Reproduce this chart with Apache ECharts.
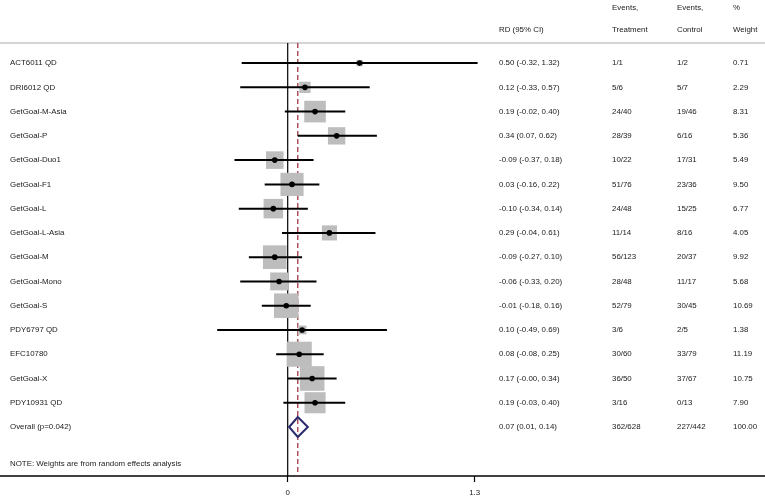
<!DOCTYPE html>
<html>
<head>
<meta charset="utf-8">
<script src="https://cdn.jsdelivr.net/npm/echarts@6/dist/echarts.min.js"></script>
<style>html,body{margin:0;padding:0;background:#fff}#c{width:765px;height:498px}</style>
</head>
<body>
<div id="c"></div>
<script>
const studies = ['ACT6011 QD','DRI6012 QD','GetGoal-M-Asia','GetGoal-P','GetGoal-Duo1','GetGoal-F1','GetGoal-L','GetGoal-L-Asia','GetGoal-M','GetGoal-Mono','GetGoal-S','PDY6797 QD','EFC10780','GetGoal-X','PDY10931 QD'];
const rd = [0.50, 0.12, 0.19, 0.34, -0.09, 0.03, -0.10, 0.29, -0.09, -0.06, -0.01, 0.10, 0.08, 0.17, 0.19];
const ciLow = [-0.32, -0.33, -0.02, 0.07, -0.37, -0.16, -0.34, -0.04, -0.27, -0.33, -0.18, -0.49, -0.08, -0.00, -0.03];
const ciHigh = [1.32, 0.57, 0.40, 0.62, 0.18, 0.22, 0.14, 0.61, 0.10, 0.20, 0.16, 0.69, 0.25, 0.34, 0.40];
const eventsT = ['1/1','5/6','24/40','28/39','10/22','51/76','24/48','11/14','56/123','28/48','52/79','3/6','30/60','36/50','3/16'];
const eventsC = ['1/2','5/7','19/46','6/16','17/31','23/36','15/25','8/16','20/37','11/17','30/45','2/5','33/79','37/67','0/13'];
const weights = [0.71, 2.29, 8.31, 5.36, 5.49, 9.50, 6.77, 4.05, 9.92, 5.68, 10.69, 1.38, 11.19, 10.75, 7.90];
const overallLabel = 'Overall (p=0.042)';
const overallRd = 0.07, overallLow = 0.01, overallHigh = 0.14;
const overallT = '362/628', overallC = '227/442', overallW = '100.00';
const tickValues = [0, 1.3];
const headerTop = ['', '', 'Events,', 'Events,', '%'];
const headerBottom = ['', 'RD (95% CI)', 'Treatment', 'Control', 'Weight'];
const noteText = 'NOTE: Weights are from random effects analysis';

const FONT = 'Liberation Sans, Arial, sans-serif';
const FS = 7.9;
const TXT = '#1a1a1a';
const colX = [10, 499, 612, 677, 733];
const fmt = v => ((v < 0 || Object.is(v, -0)) ? '-' : '') + Math.abs(v).toFixed(2);

const nStudy = studies.length;
const overallRow = nStudy;
const rowsText = [];
for (let i = 0; i < nStudy; i++) {
  rowsText.push({row: i, cols: [studies[i], fmt(rd[i]) + ' (' + fmt(ciLow[i]) + ', ' + fmt(ciHigh[i]) + ')', eventsT[i], eventsC[i], weights[i].toFixed(2)]});
}
rowsText.push({row: overallRow, cols: [overallLabel, fmt(overallRd) + ' (' + fmt(overallLow) + ', ' + fmt(overallHigh) + ')', overallT, overallC, overallW]});
rowsText.push({row: -2.27, cols: headerTop});
rowsText.push({row: -1.36, cols: headerBottom});
rowsText.push({row: 16.53, cols: [noteText, '', '', '', '']});

const markData = rd.map((v, i) => [v, i, ciLow[i], ciHigh[i], weights[i]]);
const lineTop = -0.83, axisRow = 17.02;

const chart = echarts.init(document.getElementById('c'), null, {renderer: 'canvas'});
chart.setOption({
  animation: false,
  grid: {left: 0, right: 0, top: 0, bottom: 22},
  xAxis: {
    type: 'value', min: -2.0, max: 3.318, position: 'bottom',
    splitLine: {show: false},
    axisLine: {show: true, onZero: false, lineStyle: {color: '#000', width: 1.5}},
    axisTick: {show: true, customValues: tickValues, length: 6, lineStyle: {color: '#000', width: 1.2}},
    axisLabel: {show: true, customValues: tickValues, margin: 13, fontSize: FS, fontFamily: FONT, color: TXT,
      formatter: v => (v === 0 ? '0' : String(v))}
  },
  yAxis: {type: 'value', min: -2.6, max: axisRow, inverse: true, show: false},
  series: [
    {
      type: 'custom', silent: true, z: 1,
      data: [[0, 0]],
      renderItem: (params, api) => {
        const top = api.coord([0, lineTop])[1];
        const bot = api.coord([0, axisRow])[1];
        const x0 = api.coord([0, 0])[0];
        const xo = api.coord([overallRd, 0])[0];
        return {type: 'group', children: [
          {type: 'line', shape: {x1: 0, y1: top, x2: 765, y2: top}, style: {stroke: '#d4d4d4', lineWidth: 2}},
          {type: 'line', shape: {x1: x0, y1: top, x2: x0, y2: bot}, style: {stroke: '#000', lineWidth: 1.2}},
          {type: 'line', shape: {x1: xo, y1: top, x2: xo, y2: bot}, style: {stroke: '#9e3b45', lineWidth: 1.3, lineDash: [5, 3]}}
        ]};
      }
    },
    {
      type: 'custom', silent: true, z: 2,
      data: markData,
      renderItem: (params, api) => {
        const c = api.coord([api.value(0), api.value(1)]);
        const l = api.coord([api.value(2), api.value(1)]);
        const h = api.coord([api.value(3), api.value(1)]);
        const side = 7.5 * Math.sqrt(api.value(4));
        return {type: 'group', children: [
          {type: 'rect', shape: {x: c[0] - side / 2, y: c[1] - side / 2, width: side, height: side}, style: {fill: '#bdbdbd'}},
          {type: 'line', shape: {x1: l[0], y1: c[1], x2: h[0], y2: c[1]}, style: {stroke: '#000', lineWidth: 2}},
          {type: 'circle', shape: {cx: c[0], cy: c[1], r: 2.8}, style: {fill: '#000'}}
        ]};
      }
    },
    {
      type: 'custom', silent: true, z: 3,
      data: [[overallRd, overallRow, overallLow, overallHigh]],
      renderItem: (params, api) => {
        const c = api.coord([api.value(0), api.value(1)]);
        const l = api.coord([api.value(2), api.value(1)]);
        const h = api.coord([api.value(3), api.value(1)]);
        const t = api.coord([api.value(0), api.value(1) - 0.41]);
        const b = api.coord([api.value(0), api.value(1) + 0.41]);
        return {type: 'polygon', shape: {points: [[l[0], c[1]], [c[0], t[1]], [h[0], c[1]], [c[0], b[1]]]},
          style: {fill: 'rgba(0,0,0,0)', stroke: '#2a2a6e', lineWidth: 2}};
      }
    },
    {
      type: 'custom', silent: true, z: 4,
      data: rowsText.map((r, i) => [0, r.row, i]),
      renderItem: (params, api) => {
        const r = rowsText[api.value(2)];
        const y = api.coord([0, r.row])[1];
        return {type: 'group', children: r.cols.map((t, k) => ({
          type: 'text', x: colX[k], y: y,
          style: {text: t, fill: TXT, font: FS + 'px ' + FONT, textVerticalAlign: 'middle', verticalAlign: 'middle', align: 'left'}
        }))};
      }
    }
  ]
});
</script>
</body>
</html>
